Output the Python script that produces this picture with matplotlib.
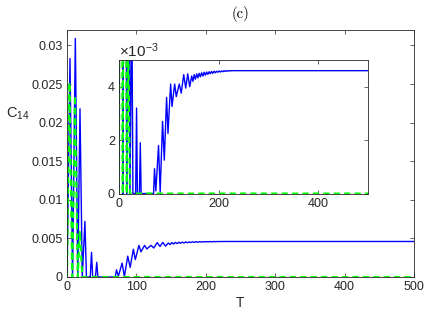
import matplotlib
matplotlib.use("Agg")
import matplotlib.pyplot as plt
from matplotlib.ticker import FixedLocator, FuncFormatter

plt.rcParams['font.family'] = ['Liberation Sans', 'DejaVu Sans']
plt.rcParams['mathtext.fontset'] = 'custom'
plt.rcParams['mathtext.rm'] = 'Liberation Sans'
plt.rcParams['mathtext.it'] = 'Liberation Sans:italic'

# ---- data ----
T_blue = [0, 4.3, 8, 12, 15.5, 18.7, 22, 25.8, 28, 33.5, 35.3, 37, 41, 42.8, 44.5,
          69.5, 71.3, 74, 79.4, 82.7, 87.5, 91, 95.6, 98.4, 103.7, 106.5, 111.8, 115,
          121, 125, 130, 134, 138, 142, 146, 148.5, 151, 153.5, 156, 158.5, 161, 163.5,
          166, 168.5, 171, 173.5, 176, 178.5, 181, 183.5, 186, 188.5, 191, 193.5, 196,
          198.5, 201, 203.5, 206, 208.5, 211, 213.5, 216, 218.5, 221, 223.5, 226, 240, 500]
C14_blue = [0, 0.0283, 0, 0.0309, 0, 0.0218, 0, 0.0072, 0, 0, 0.0032, 0, 0, 0.0019, 0,
            0, 0.00093, 0.0001, 0.0018, 0.00005, 0.0027, 0.00125, 0.0036, 0.00225, 0.0041,
            0.00326, 0.0041, 0.00363, 0.0041, 0.00376, 0.00445, 0.00395, 0.00448, 0.0040,
            0.0044, 0.0042, 0.00445, 0.00428, 0.00448, 0.00433, 0.0045, 0.00437,
            0.00452, 0.0044, 0.00454, 0.00443, 0.00455, 0.00446, 0.00456, 0.00449,
            0.00457, 0.0045, 0.00458, 0.00452, 0.00458, 0.00454, 0.00459, 0.00455,
            0.00459, 0.00456, 0.0046, 0.00457, 0.0046, 0.00458, 0.0046, 0.00459, 0.0046,
            0.0046, 0.0046]
T_green = [0, 3.5, 7.5, 11.5, 15.5, 18.5, 22, 500]
C14_green = [0, 0.0252, 0, 0.0235, 0, 0.006, 0, 0]

main_xticks = [0, 100, 200, 300, 400, 500]
main_yticks = [0, 0.005, 0.01, 0.015, 0.02, 0.025, 0.03]
inset_xticks = [0, 200, 400]
inset_yticks = [0, 0.002, 0.004]
inset_ylabels = ['0', '2', '4']

BLUE = (0, 0, 1)
GREEN = (0, 1, 0)
AXC = (0.15, 0.15, 0.15)

fig = plt.figure(figsize=(4.36, 3.22), dpi=100)

def style(ax):
    for s in ax.spines.values():
        s.set_color(AXC)
        s.set_linewidth(0.6)
    ax.tick_params(direction='in', top=True, right=True, length=3, width=0.5,
                   color=AXC, labelcolor=(0.15, 0.15, 0.15), labelsize=9, pad=3)

ax = fig.add_axes([0.1537, 0.1398, 0.7958, 0.767])
ax.plot(T_blue, C14_blue, color=BLUE, lw=1.0)
ax.plot(T_green, C14_green, color=GREEN, lw=1.5, dashes=(3, 2))
ax.set_xlim(0, 500)
ax.set_ylim(0, 0.032)
ax.xaxis.set_major_locator(FixedLocator(main_xticks))
ax.yaxis.set_major_locator(FixedLocator(main_yticks))
ax.yaxis.set_major_formatter(FuncFormatter(lambda v, p: '%g' % round(v, 4)))
style(ax)
ax.set_xlabel('T', fontsize=10, color=(0.15, 0.15, 0.15), labelpad=2)
ax.text(-0.175, 0.66, r'C$_{14}$', transform=ax.transAxes, fontsize=10.5,
        color=(0.15, 0.15, 0.15), ha='left', va='center')
ax.set_title('(c)', fontfamily='cmr10', fontsize=10.5, pad=9)

ins = fig.add_axes([0.2729, 0.399, 0.5711, 0.4147])
ins.plot(T_blue, C14_blue, color=BLUE, lw=1.0)
ins.plot(T_green, C14_green, color=GREEN, lw=1.5, dashes=(3, 2))
ins.set_xlim(0, 500)
ins.set_ylim(0, 0.005)
ins.xaxis.set_major_locator(FixedLocator(inset_xticks))
ins.yaxis.set_major_locator(FixedLocator(inset_yticks))
ins.set_yticklabels(inset_ylabels)
style(ins)
ins.text(0.0, 1.0, r'$\times$10$^{\mathregular{-3}}$', transform=ins.transAxes,
         fontsize=11, color=(0.15, 0.15, 0.15), ha='left', va='bottom')

fig.savefig('out.png', dpi=100)
